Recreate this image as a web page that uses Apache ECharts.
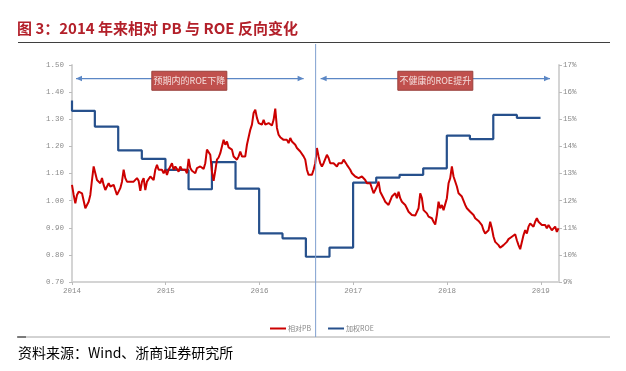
<!DOCTYPE html>
<html><head><meta charset="utf-8">
<script src="https://cdn.jsdelivr.net/npm/echarts@6/dist/echarts.min.js"></script>
<style>html,body{margin:0;padding:0;background:#fff}#c{width:626px;height:371px}</style>
</head><body><div id="c"></div>
<script>
const titleText = '图 3：2014 年来相对 PB 与 ROE 反向变化';
const sourceText = '资料来源：Wind、浙商证券研究所';
const seriesNames = ['相对PB', '加权ROE'];
const phaseLabels = ['预期内的ROE下降', '不健康的ROE提升'];
const xMinDate = '2014-01-01';
const xMaxDate = '2019-03-13';
const splitDate = '2016-08-07';
const arrowLevel = 1.45;

// relative PB, sampled about every 6.5 days starting 2014-01-01
const pbStartDate = '2014-01-01';
const pbStepDays = 6.49;
const pbValues = [
1.058,1.021,0.990,1.021,1.033,1.031,1.027,1.021,0.972,0.984,
0.996,1.021,1.076,1.126,1.101,1.076,1.083,1.064,1.083,1.058,
1.039,1.052,1.064,1.052,1.046,1.058,1.039,1.021,1.027,1.046,
1.070,1.114,1.083,1.070,1.064,1.070,1.064,1.070,1.076,1.083,
1.073,1.036,1.070,1.083,1.039,1.070,1.064,1.089,1.083,1.076,
1.114,1.132,1.114,1.107,1.114,1.101,1.114,1.095,1.114,1.107,
1.138,1.114,1.126,1.120,1.107,1.126,1.114,1.107,1.114,1.101,
1.154,1.120,1.110,1.110,1.101,1.120,1.117,1.126,1.126,1.117,
1.138,1.188,1.194,1.169,1.107,1.073,1.110,1.151,1.159,1.175,
1.169,1.224,1.206,1.218,1.196,1.200,1.188,
1.163,1.157,1.151,1.163,1.181,1.163,1.169,1.163,1.206,1.212,
1.261,1.280,1.323,1.335,1.305,1.286,1.292,1.280,1.298,1.280,
1.274,1.286,1.280,1.277,1.298,1.339,1.268,1.243,1.234,1.231,
1.224,1.218,1.224,1.212,1.231,1.218,1.212,1.206,1.194,1.188,
1.181,1.188,1.163,1.151,1.114,1.095,1.089,1.095,1.114,1.138,
1.194,1.163,1.138,1.126,1.138,1.144,1.169,1.157,1.138,1.132,
1.138,1.144,1.126,1.138,1.144,1.138,1.151,1.144,1.132,1.126,
1.114,1.101,1.095,1.089,1.095,1.083,1.076,1.089,1.083,1.076,
1.064,1.070,1.064,1.070,1.027,1.039,1.052,1.070,1.033,1.021,
1.009,0.996,0.990,0.984,0.990,1.015,
1.021,1.027,1.009,1.033,1.009,0.996,0.990,0.984,0.972,0.959,
0.953,0.947,0.947,0.945,0.947,0.972,1.027,1.009,0.965,0.959,
0.953,0.941,0.947,0.935,0.922,0.912,0.947,0.996,0.972,0.984,
0.965,0.959,1.009,1.064,1.083,1.126,1.089,1.083,1.052,1.027,
1.021,1.015,1.009,0.984,0.972,0.965,0.959,0.965,0.947,0.935,
0.928,0.925,0.920,0.910,0.891,0.879,0.873,0.891,0.922,0.898,
0.867,0.848,0.842,0.836,0.826,0.830,0.836,0.842,0.848,0.858,
0.854,0.867,0.861,0.876,0.854,0.836,0.821,0.824,0.873,0.891,
0.879,0.904,0.916,0.910,0.904,0.922,0.935,0.922,0.928,0.910,
0.916,0.910,0.898,0.910,0.904,0.891,0.898,0.904,0.885,0.898
];

// weighted ROE (%), quarterly step
const roeDates = ['2014-01-01','2014-01-01','2014-03-31','2014-06-30','2014-09-30','2014-12-31',
'2015-03-31','2015-06-30','2015-09-30','2015-12-31','2016-03-31','2016-06-30','2016-09-30',
'2016-12-31','2017-03-31','2017-06-30','2017-09-30','2017-12-31','2018-03-31','2018-06-30',
'2018-09-30','2018-12-31'];
const roeValues = [15.69,15.31,14.73,13.85,13.54,13.13,12.42,13.42,12.44,10.79,10.61,9.93,10.27,
12.66,12.85,12.95,13.19,14.40,14.27,15.16,15.05,15.05];

const ts = s => +new Date(s + 'T00:00:00');
const DAY = 86400000;
const pbData = pbValues.map((v, i) => [ts(pbStartDate) + i * pbStepDays * DAY, v]);
const roeData = roeDates.map((d, i) => [ts(d), roeValues[i]]);

const axisFont = 'Liberation Mono';
const labelColor = '#8a8a8a';
const axisLineColor = '#d4d4d4';

const chart = echarts.init(document.getElementById('c'), null, {renderer: 'canvas'});
chart.setOption({
  animation: false,
  backgroundColor: '#ffffff',
  title: {
    text: titleText, left: 17, top: 21, padding: 0,
    textStyle: {fontSize: 15, fontWeight: 'bold', color: '#B3202A', fontFamily: 'Noto Sans CJK SC'}
  },
  legend: {
    data: seriesNames, left: 270, top: 325, itemWidth: 16, itemHeight: 2, itemGap: 17,
    icon: 'rect', padding: 0,
    textStyle: {fontSize: 7, color: '#888', fontFamily: 'Noto Sans CJK SC', padding: [0,0,0,-3]}
  },
  grid: {left: 72, right: 67, top: 65, bottom: 89},
  xAxis: {
    type: 'time', min: ts(xMinDate), max: ts(xMaxDate),
    minInterval: 365 * DAY, maxInterval: 366 * DAY,
    axisLine: {lineStyle: {color: axisLineColor, width: 2}},
    axisTick: {show: true, length: 3, lineStyle: {color: '#bbb'}},
    splitLine: {show: false},
    axisLabel: {
      fontFamily: axisFont, fontSize: 7.5, color: labelColor, margin: 5,
      showMaxLabel: false, hideOverlap: false,
      formatter: v => String(new Date(v).getFullYear())
    }
  },
  yAxis: [{
    type: 'value', min: 0.7, max: 1.5, interval: 0.1,
    axisLine: {show: true, lineStyle: {color: axisLineColor, width: 2}},
    axisTick: {show: true, length: 3, lineStyle: {color: '#bbb'}},
    splitLine: {show: false},
    axisLabel: {fontFamily: axisFont, fontSize: 7.5, color: labelColor, margin: 8,
      formatter: v => v.toFixed(2)}
  }, {
    type: 'value', min: 9, max: 17, interval: 1, position: 'right',
    axisLine: {show: true, lineStyle: {color: axisLineColor, width: 2}},
    axisTick: {show: true, length: 3, lineStyle: {color: '#bbb'}},
    splitLine: {show: false},
    axisLabel: {fontFamily: axisFont, fontSize: 7.5, color: labelColor, margin: 4,
      formatter: v => Math.round(v) + '%'}
  }],
  series: [{
    name: seriesNames[1], type: 'line', yAxisIndex: 1, step: 'end', data: roeData,
    showSymbol: false, symbol: 'none', lineStyle: {color: '#26508C', width: 2.2},
    itemStyle: {color: '#26508C'}, z: 2
  }, {
    name: seriesNames[0], type: 'line', yAxisIndex: 0, data: pbData,
    showSymbol: false, symbol: 'none', lineStyle: {color: '#CC0000', width: 2},
    itemStyle: {color: '#CC0000'}, z: 3
  }]
});

const xv = chart.convertToPixel({xAxisIndex: 0}, ts(splitDate));
const xl = chart.convertToPixel({xAxisIndex: 0}, ts(xMinDate));
const xr = chart.convertToPixel({xAxisIndex: 0}, ts(xMaxDate));
const ya = chart.convertToPixel({yAxisIndex: 0}, arrowLevel);
const arrowColor = '#5B87C5';
function head(x, y, dir) {
  return {type: 'polygon', shape: {points: [[x, y], [x - dir * 6, y - 2.8], [x - dir * 6, y + 2.8]]},
    style: {fill: arrowColor}, z: 10};
}
function box(cx, text) {
  return [{
    type: 'rect', shape: {x: cx - 37.5, y: ya - 7.3, width: 75, height: 19},
    style: {fill: '#C0504D', stroke: '#99403D', lineWidth: 1}, z: 11
  }, {
    type: 'text', x: cx, y: ya + 2.2,
    style: {text: text, fill: '#F4DEDD', font: '9px "Noto Sans CJK SC"', align: 'center', verticalAlign: 'middle'},
    z: 12
  }];
}
const g = [
  {type: 'line', shape: {x1: 18, y1: 42.5, x2: 610, y2: 42.5}, style: {stroke: '#3f3f3f', lineWidth: 1}},
  {type: 'line', shape: {x1: 18, y1: 337, x2: 610, y2: 337}, style: {stroke: '#a6a6a6', lineWidth: 1}},
  {type: 'line', shape: {x1: 17, y1: 337, x2: 26, y2: 337}, style: {stroke: '#222', lineWidth: 1}},
  {type: 'line', shape: {x1: xv, y1: 44, x2: xv, y2: 337}, style: {stroke: '#7F9FCF', lineWidth: 1}, z: 9},
  {type: 'line', shape: {x1: xl + 4, y1: ya, x2: xv - 12, y2: ya}, style: {stroke: arrowColor, lineWidth: 1.2}, z: 10},
  head(xl + 4, ya, -1), head(xv - 12, ya, 1),
  {type: 'line', shape: {x1: xv + 5, y1: ya, x2: xr - 9, y2: ya}, style: {stroke: arrowColor, lineWidth: 1.2}, z: 10},
  head(xv + 5, ya, -1), head(xr - 9, ya, 1),
  ...box((xl + xv) / 2 - 4.5, phaseLabels[0]),
  ...box((xv + xr) / 2 - 2, phaseLabels[1]),
  {type: 'text', x: 18, y: 353,
    style: {text: sourceText, fill: '#000', font: '14px "Noto Sans CJK SC"', verticalAlign: 'middle'}}
];
chart.setOption({graphic: g});
</script>
</body></html>
